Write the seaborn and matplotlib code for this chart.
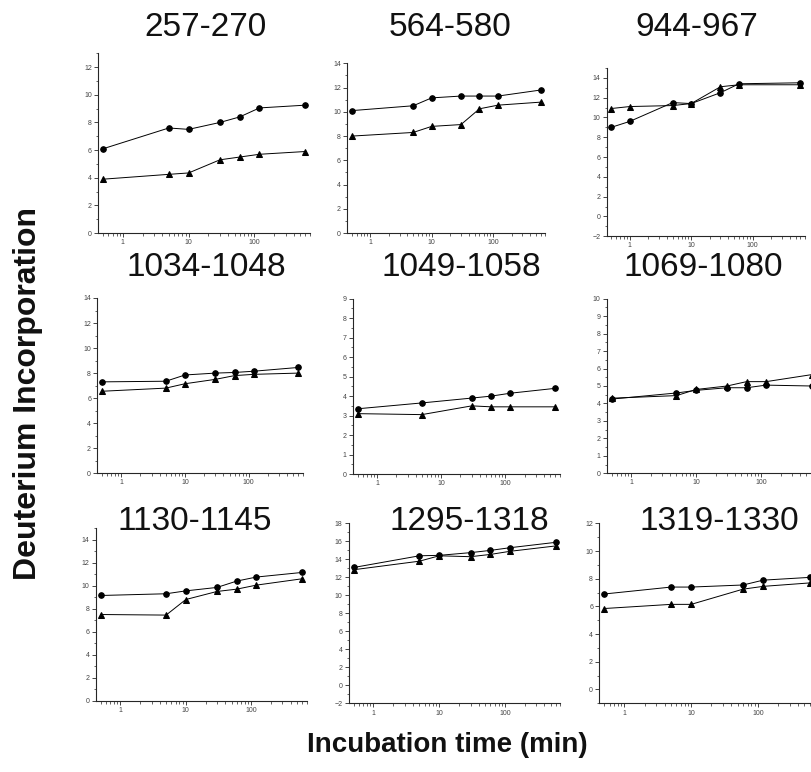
import matplotlib
matplotlib.use("Agg")
import matplotlib.pyplot as plt
import matplotlib.ticker as mticker
import pandas as pd
import seaborn as sns

sns.set_style("ticks")
plt.rcParams['font.family'] = ['Liberation Sans', 'DejaVu Sans']

# Data
peptides = ["257-270", "564-580", "944-967",
            "1034-1048", "1049-1058", "1069-1080",
            "1130-1145", "1295-1318", "1319-1330"]

t_std = [0.5, 5, 10, 30, 60, 120, 600]
t_944 = [0.5, 1, 5, 10, 30, 60, 600]
t_1049 = [0.5, 5, 30, 60, 120, 600]
t_1319 = [0.5, 5, 10, 60, 120, 600]
times = [t_std, t_std, t_944, t_std, t_1049, t_std, t_std, t_std, t_1319]

circles = [
    [6.1, 7.6, 7.5, 8.0, 8.4, 9.05, 9.25],
    [10.1, 10.5, 11.15, 11.3, 11.3, 11.3, 11.8],
    [9.0, 9.6, 11.5, 11.4, 12.5, 13.4, 13.5],
    [7.3, 7.35, 7.85, 8.0, 8.05, 8.15, 8.45],
    [3.35, 3.65, 3.9, 4.0, 4.15, 4.4],
    [4.25, 4.6, 4.75, 4.9, 4.9, 5.05, 5.0],
    [9.15, 9.3, 9.55, 9.85, 10.4, 10.75, 11.15],
    [13.1, 14.4, 14.45, 14.75, 15.0, 15.3, 15.9],
    [6.9, 7.4, 7.4, 7.55, 7.9, 8.1],
]
triangles = [
    [3.9, 4.25, 4.35, 5.3, 5.5, 5.7, 5.9],
    [8.0, 8.3, 8.8, 8.95, 10.25, 10.55, 10.8],
    [10.9, 11.1, 11.2, 11.4, 13.1, 13.3, 13.3],
    [6.55, 6.8, 7.15, 7.5, 7.8, 7.9, 8.0],
    [3.1, 3.05, 3.5, 3.45, 3.45, 3.45],
    [4.3, 4.45, 4.8, 5.0, 5.25, 5.25, 5.65],
    [7.5, 7.45, 8.8, 9.5, 9.7, 10.05, 10.6],
    [12.85, 13.8, 14.4, 14.3, 14.55, 14.9, 15.5],
    [5.85, 6.15, 6.15, 7.25, 7.45, 7.7],
]
y_limits = [(0, 13), (0, 14), (-2, 15), (0, 14), (0, 9), (0, 10), (0, 15), (-2, 18), (-1, 12)]
y_steps = [2, 2, 2, 2, 1, 1, 2, 2, 2]

# axes boxes [left, bottom, width, height] in figure fraction
boxes = [
    [0.121, 0.698, 0.261, 0.233], [0.428, 0.698, 0.244, 0.220], [0.748, 0.694, 0.244, 0.218],
    [0.120, 0.387, 0.253, 0.227], [0.435, 0.386, 0.255, 0.227], [0.748, 0.387, 0.258, 0.226],
    [0.118, 0.092, 0.260, 0.224], [0.430, 0.089, 0.261, 0.233], [0.739, 0.089, 0.265, 0.233],
]
# title centres in pixels (x, y from top)
title_pos = [(206, 28), (450, 28), (697, 28),
             (206, 268), (461, 268), (703, 268),
             (195, 522), (469, 522), (719, 522)]

W, H = 811, 772
fig = plt.figure(figsize=(W / 100, H / 100), dpi=100)

for i, name in enumerate(peptides):
    ax = fig.add_axes(boxes[i])
    df = pd.DataFrame({'time': times[i], 'circ': circles[i], 'tri': triangles[i]})
    sns.lineplot(data=df, x='time', y='circ', marker='o', markersize=4, color='black',
                 linewidth=0.7, markeredgecolor='black', ax=ax)
    sns.lineplot(data=df, x='time', y='tri', marker='^', markersize=4.2, color='black',
                 linewidth=0.7, markeredgecolor='black', ax=ax)
    ax.set_xscale('log')
    ax.set_xlim(0.42, 700)
    ax.set_ylim(*y_limits[i])
    ax.xaxis.set_major_locator(mticker.FixedLocator([1, 10, 100]))
    ax.xaxis.set_major_formatter(mticker.FixedFormatter(['1', '10', '100']))
    ax.xaxis.set_minor_locator(mticker.LogLocator(base=10, subs=range(2, 10), numticks=20))
    ax.yaxis.set_major_locator(mticker.MultipleLocator(y_steps[i]))
    ax.yaxis.set_minor_locator(mticker.MultipleLocator(y_steps[i] / 2))
    ax.tick_params(which='major', length=3, width=0.6, labelsize=5, labelcolor='#444444', pad=1.5)
    ax.tick_params(which='minor', length=1.8, width=0.5)
    ax.set_xlabel('')
    ax.set_ylabel('')
    for s in ['top', 'right']:
        ax.spines[s].set_visible(False)
    for s in ['left', 'bottom']:
        ax.spines[s].set_linewidth(0.8)
    tx, ty = title_pos[i]
    fig.text(tx / W, 1 - ty / H, name, fontsize=24, ha='center', va='center', color='#111111')

fig.text(0.035, 0.49, 'Deuterium Incorporation', rotation=90, ha='center', va='center',
         fontsize=23, fontweight='bold', color='#111111')
fig.text(0.551, 0.035, 'Incubation time (min)', ha='center', va='center',
         fontsize=20, fontweight='bold', color='#111111')

fig.savefig('out.png', dpi=100)
